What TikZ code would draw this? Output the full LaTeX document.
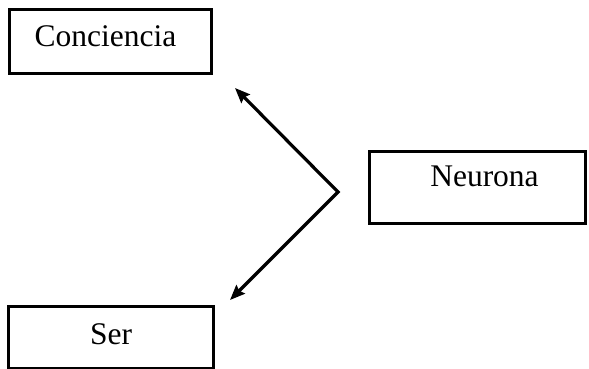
\documentclass[tikz,border=0pt]{standalone}
\usepackage{fontspec}
\setmainfont{Liberation Serif}
\usetikzlibrary{arrows.meta}
\begin{document}
\begin{tikzpicture}[x=1pt,y=-1pt,
  box/.style={draw=black, line width=3pt, inner sep=0pt, anchor=north west,
    font=\fontsize{31.5}{36}\selectfont},
  tip/.tip={Stealth[length=15pt,width=12pt,inset=2pt]},
  conn/.style={line width=3.2pt, line join=miter, tip-tip}]
\useasboundingbox (0,0) rectangle (589,369);
\node[box, minimum width=202pt, text height=37pt, text depth=27pt] (c) at (8,8) {\hspace*{-10pt}Conciencia};
\node[box, minimum width=216pt, text height=35pt, text depth=37pt] (n) at (368,150) {\hspace*{14pt}Neurona};
\node[box, minimum width=205pt, text height=38pt, text depth=24pt] (s) at (7,305) {Ser};
\coordinate (tc) at (235,88);
\coordinate (v) at (338,192);
\coordinate (ts) at (230,300);
\draw[conn] (tc) -- (v) -- (ts);
\end{tikzpicture}
\end{document}
